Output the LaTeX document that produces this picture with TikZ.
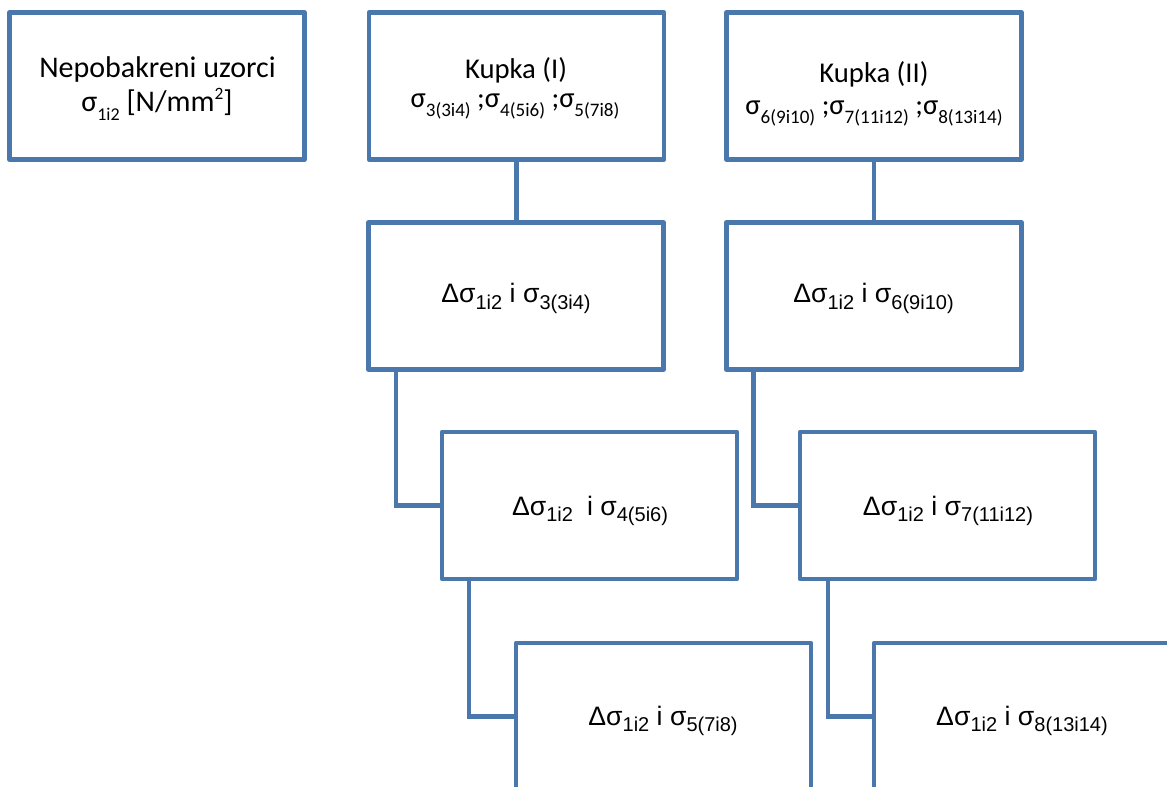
\documentclass[tikz,border=0pt]{standalone}
\usepackage{fontspec}
\setmainfont{Carlito}
\newfontfamily\arialf{Liberation Sans}
\usetikzlibrary{calc}
\definecolor{boxblue}{HTML}{4A78AC}
\newcommand{\bsub}[1]{\raisebox{-6.5pt}{\fontsize{13.5}{13.5}\selectfont #1}}
\newcommand{\bsup}[1]{\raisebox{9pt}{\fontsize{13}{13}\selectfont #1}}
\newcommand{\ksub}[1]{\raisebox{-6.5pt}{\fontsize{14.3}{14.3}\selectfont #1}}
\newcommand{\asub}[1]{\raisebox{-5pt}{\fontsize{15}{15}\selectfont #1}}
\begin{document}
\begin{tikzpicture}[x=0.75pt,y=-0.75pt,
  box/.style={draw=boxblue, line width=3.4pt, line join=round, minimum width=221.25pt, minimum height=110.25pt, inner sep=0pt},
  link/.style={draw=boxblue, line width=3.3pt},
  ctxt/.style={font=\fontsize{21.5}{21.5}\selectfont, anchor=base, inner sep=0pt},
  atxt/.style={font=\arialf\fontsize{20}{20}\selectfont, anchor=base, inner sep=0pt}]
\clip (0,0) rectangle (1167,787);
% boxes
\node[box] (b1) at (157,86) {};
\node[box] (k1) at (516.5,86) {};
\node[box] (k2) at (874,86) {};
\node[box] (d1) at (516,296) {};
\node[box] (d2) at (874,296) {};
\node[box] (d3) at (589.5,505.5) {};
\node[box] (d4) at (947.5,505.5) {};
\node[box] (d5) at (663.5,716.5) {};
\node[box] (d6) at (1021.5,716.5) {};
% connectors
\draw[link] (k1.south) -- (k1.south |- d1.north);
\draw[link] (k2.south) -- (k2.south |- d2.north);
\draw[link] ([xshift=22.5pt]d1.south west) |- (d3.west);
\draw[link] ([xshift=22pt]d3.south west) |- (d5.west);
\draw[link] ([xshift=22pt]d2.south west) |- (d4.west);
\draw[link] ([xshift=22.5pt]d4.south west) |- (d6.west);
% texts
\node[ctxt, font=\fontsize{22.5}{22.5}\selectfont] (b1a) at (157.5,78) {Nepobakreni uzorci};
\node[ctxt, font=\fontsize{22.5}{22.5}\selectfont] (b1b) at (157,112) {σ\bsub{1i2} [N/mm\bsup{2}]};
\node[ctxt] (k1a) at (516,79) {Kupka (I)};
\node[ctxt] (k1b) at (515,108) {σ\ksub{3(3i4)} ;σ\ksub{4(5i6)} ;σ\ksub{5(7i8)}};
\node[ctxt] (k2a) at (874,83) {Kupka (II)};
\node[ctxt] (k2b) at (874,115) {σ\ksub{6(9i10)} ;σ\ksub{7(11i12)} ;σ\ksub{8(13i14)}};
\node[atxt] (t1) at (516,303) {Δσ\asub{1i2} i σ\asub{3(3i4)}};
\node[atxt] (t2) at (873.5,303) {Δσ\asub{1i2} i σ\asub{6(9i10)}};
\node[atxt] (t3) at (590,515) {Δσ\asub{1i2}\hspace{5pt} i σ\asub{4(5i6)}};
\node[atxt] (t4) at (948,515) {Δσ\asub{1i2} i σ\asub{7(11i12)}};
\node[atxt] (t5) at (663,725) {Δσ\asub{1i2} i σ\asub{5(7i8)}};
\node[atxt] (t6) at (1022,725) {Δσ\asub{1i2} i σ\asub{8(13i14)}};
\end{tikzpicture}
\end{document}
